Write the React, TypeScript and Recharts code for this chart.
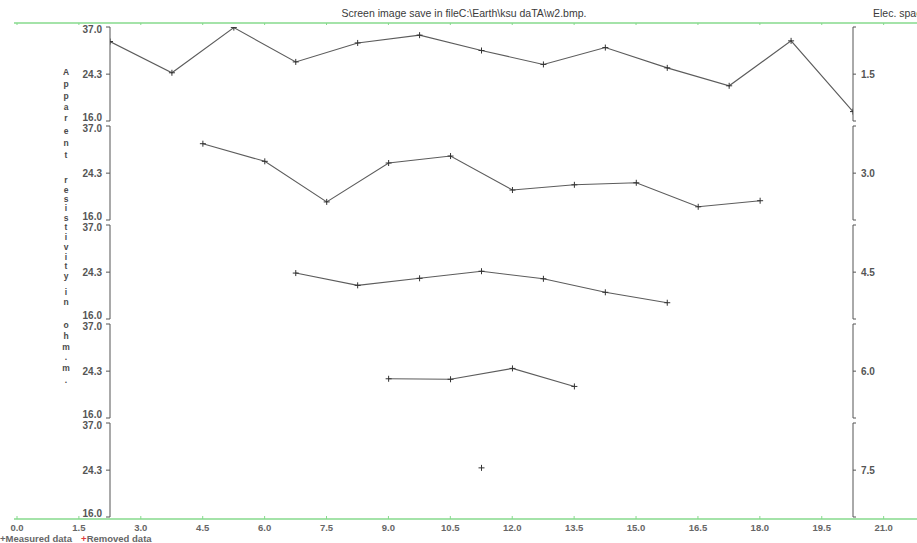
import React from 'react';
import { LineChart, Line, XAxis, YAxis } from 'recharts';

// electrode spacing of each data level (right axis labels)
const spacings = [1.5, 3.0, 4.5, 6.0, 7.5];

// data level 1..5: x location (m) and apparent resistivity (ohm.m)
const xLevel1 = [2.25, 3.75, 5.25, 6.75, 8.25, 9.75, 11.25, 12.75, 14.25, 15.75, 17.25, 18.75, 20.25];
const rhoLevel1 = [32.5, 24.6, 36.8, 27.1, 32.1, 34.4, 30.0, 26.5, 30.8, 25.7, 21.9, 32.7, 17.4];

const xLevel2 = [4.5, 6.0, 7.5, 9.0, 10.5, 12.0, 13.5, 15.0, 16.5, 18.0];
const rhoLevel2 = [31.6, 27.0, 18.8, 26.6, 28.3, 20.9, 21.9, 22.3, 18.0, 19.0];

const xLevel3 = [6.75, 8.25, 9.75, 11.25, 12.75, 14.25, 15.75];
const rhoLevel3 = [24.1, 21.6, 23.0, 24.5, 22.9, 20.3, 18.5];

const xLevel4 = [9.0, 10.5, 12.0, 13.5];
const rhoLevel4 = [22.7, 22.6, 24.9, 21.2];

const xLevel5 = [11.25];
const rhoLevel5 = [24.8];

const xTicks = [0, 1.5, 3, 4.5, 6, 7.5, 9, 10.5, 12, 13.5, 15, 16.5, 18, 19.5, 21];
const yTicks = [16, 24.3, 37];

const levels = [
  { x: xLevel1, rho: rhoLevel1 },
  { x: xLevel2, rho: rhoLevel2 },
  { x: xLevel3, rho: rhoLevel3 },
  { x: xLevel4, rho: rhoLevel4 },
  { x: xLevel5, rho: rhoLevel5 },
];

const W = 917;
const H = 543;
const PANEL_TOP = 27;
const PANEL_STEP = 98.9;
const PANEL_H = 94;
const PAD = 6;
const AXIS = '#555';
const GREEN = '#86da8c';
const TXT = '#555';
const FONT = '"Liberation Sans", Arial, sans-serif';

const yTitle = 'Apparent resistivity in ohm.m.';
const yTitleRows = [72, 84, 96, 107, 118, 131, 143, 155, 0, 180, 190, 199, 208, 218, 227, 237, 247, 257, 266, 276, 0, 292, 302, 0, 325, 336, 347, 357, 368, 380];

const Cross = (props: any) => {
  const { cx, cy, index } = props;
  if (cx == null || cy == null) return null;
  return (
    <path
      key={`c-${index}`}
      d={`M${cx - 3},${cy}h6M${cx},${cy - 3}v6`}
      stroke="#333"
      strokeWidth={1}
    />
  );
};

const LeftTick = (props: any) => {
  const { x, y, payload } = props;
  const v = payload.value;
  const dy = v === 37 ? 5.5 : v === 16 ? -0.5 : 3.5;
  return (
    <text x={x - 2} y={y + dy} textAnchor="end" fontSize={10} fontWeight="bold" fill={TXT} fontFamily={FONT}>
      {v.toFixed(1)}
    </text>
  );
};

const makeRightTick = (label: number) => (props: any) => {
  const { x, y, payload } = props;
  if (payload.value !== 24.3) return <g />;
  return (
    <text x={x + 3} y={y + 3.5} textAnchor="start" fontSize={10} fontWeight="bold" fill={TXT} fontFamily={FONT}>
      {label.toFixed(1)}
    </text>
  );
};

const BottomTick = (props: any) => {
  const { x, y, payload } = props;
  return (
    <g>
      <line x1={x} x2={x} y1={y} y2={y - 3} stroke={GREEN} strokeWidth={1} />
      <text x={x} y={y + 12} textAnchor="middle" fontSize={9.5} fontWeight="bold" fill="#666" fontFamily={FONT}>
        {payload.value.toFixed(1)}
      </text>
    </g>
  );
};

const TopTick = (props: any) => {
  const { x, y } = props;
  return <line x1={x} x2={x} y1={y} y2={y + 2} stroke={GREEN} strokeWidth={1} />;
};

const Panel = ({ idx }: { idx: number }) => {
  const lv = levels[idx];
  const data = lv.x.map((x, i) => ({ x, rho: lv.rho[i] }));
  return (
    <div style={{ position: 'absolute', left: 0, top: PANEL_TOP + idx * PANEL_STEP - PAD }}>
      <LineChart width={W} height={PANEL_H + 2 * PAD} data={data} margin={{ top: PAD, bottom: PAD, left: 0, right: 0 }}>
        <XAxis dataKey="x" type="number" domain={[2.25, 20.25]} hide allowDataOverflow />
        <YAxis
          yAxisId="l"
          width={110}
          type="number"
          scale="log"
          domain={[16, 37]}
          ticks={yTicks}
          interval={0}
          allowDataOverflow
          stroke={AXIS}
          tickSize={4}
          tick={<LeftTick />}
        />
        <YAxis
          yAxisId="r"
          orientation="right"
          width={64}
          type="number"
          scale="log"
          domain={[16, 37]}
          ticks={yTicks}
          interval={0}
          allowDataOverflow
          stroke={AXIS}
          tickSize={3}
          tick={makeRightTick(spacings[idx])}
        />
        <Line yAxisId="r" dataKey="rho" stroke="none" fill="none" dot={false} activeDot={false} isAnimationActive={false} />
        <Line
          yAxisId="l"
          dataKey="rho"
          type="linear"
          stroke="#5c5c5c"
          strokeWidth={1.1}
          dot={Cross}
          activeDot={false}
          isAnimationActive={false}
        />
      </LineChart>
    </div>
  );
};

const Frame = () => {
  const data = xLevel1.map((x, i) => ({ x, rho: rhoLevel1[i] }));
  return (
    <div style={{ position: 'absolute', left: 0, top: 0 }}>
      <LineChart width={W} height={H} data={data} margin={{ top: 22, bottom: 23, left: 14, right: 0 }}>
        <XAxis
          xAxisId="b"
          dataKey="x"
          type="number"
          domain={[-0.0727, 21.808]}
          ticks={xTicks}
          interval={0}
          allowDataOverflow
          height={1}
          tickSize={0}
          tickMargin={0}
          axisLine={{ stroke: GREEN, strokeWidth: 1.3 }}
          tickLine={false}
          tick={<BottomTick />}
        />
        <XAxis
          xAxisId="t"
          orientation="top"
          dataKey="x"
          type="number"
          domain={[-0.0727, 21.808]}
          ticks={xTicks}
          interval={0}
          allowDataOverflow
          height={1}
          tickSize={0}
          tickMargin={0}
          axisLine={{ stroke: GREEN, strokeWidth: 1.3 }}
          tickLine={false}
          tick={<TopTick />}
        />
        <YAxis hide domain={[16, 37]} />
        <Line xAxisId="b" dataKey="rho" stroke="none" dot={false} activeDot={false} isAnimationActive={false} />
        <Line xAxisId="t" dataKey="rho" stroke="none" dot={false} activeDot={false} isAnimationActive={false} />
      </LineChart>
    </div>
  );
};

export default function App() {
  return (
    <div style={{ position: 'relative', width: W, height: H, overflow: 'hidden', background: '#fff', fontFamily: FONT }}>
      <style>{'body{margin:0}'}</style>
      <Frame />
      {levels.map((_, i) => (
        <Panel key={i} idx={i} />
      ))}
      <svg width={W} height={H} style={{ position: 'absolute', left: 0, top: 0, pointerEvents: 'none' }}>
        <text x={464} y={17} textAnchor="middle" fontSize={10.5} fill="#3a3a3a" fontFamily={FONT}>
          {'Screen image save in fileC:\\Earth\\ksu daTA\\w2.bmp.'}
        </text>
        <text x={873} y={17} fontSize={10.5} fill="#3a3a3a" fontFamily={FONT}>
          Elec. spacing
        </text>
        {yTitle.split('').map((ch, i) =>
          ch === ' ' ? null : (
            <text key={i} x={66} y={yTitleRows[i] + 3} textAnchor="middle" fontSize={8.5} fontWeight="bold" fill="#4a4a4a" fontFamily={FONT}>
              {ch}
            </text>
          )
        )}
        <text x={0} y={542} fontSize={9.5} fontWeight="bold" fill="#666" fontFamily={FONT}>
          <tspan>+Measured data</tspan>
          <tspan dx={9} fill="#e23c3c">+</tspan>
          <tspan>Removed data</tspan>
        </text>
      </svg>
    </div>
  );
}
